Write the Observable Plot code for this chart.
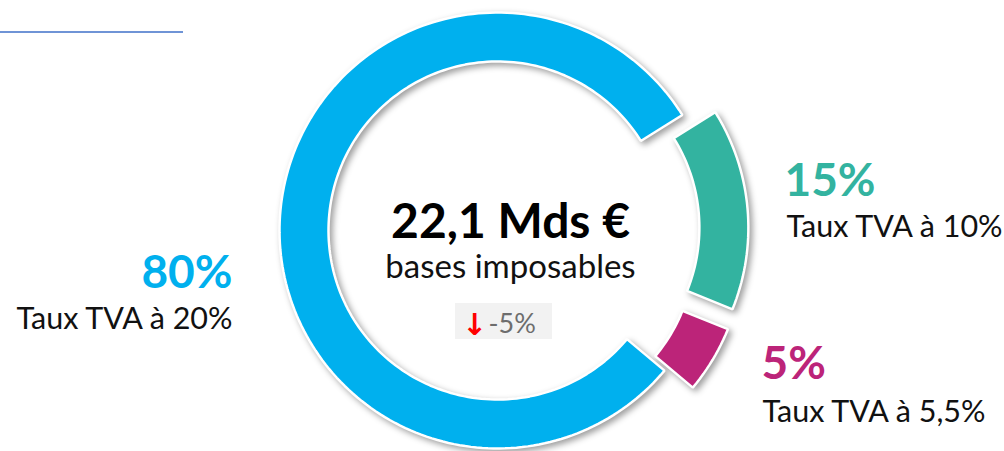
<!DOCTYPE html>
<html><head><meta charset="utf-8">
<script src="https://cdn.jsdelivr.net/npm/d3@7"></script>
<script src="https://cdn.jsdelivr.net/npm/@observablehq/plot@0.6"></script>
<style>
html,body{margin:0;padding:0;background:#fff;}
#chart{position:relative;width:1004px;height:451px;overflow:hidden;}
#rule{position:absolute;left:0;top:31px;width:183px;height:2px;background:#6f94d6;z-index:2;}
</style></head><body>
<div id="chart"></div>
<script>
// ---- data ----
const categories = ["Taux TVA à 20%", "Taux TVA à 10%", "Taux TVA à 5,5%"];
const shares = [80, 15, 5];
const shareLabels = ["80%", "15%", "5%"];
const colors = ["#00B0EE", "#33B3A0", "#BC2479"];
const totalLabel = "22,1 Mds €";
const totalCaption = "bases imposables";
const changeArrow = "↓";
const changeLabel = "-5%";

// ---- layout ----
const W = 1004, H = 451;
const cx = 497, cy = 230, rIn = 169, rOut = 218;
const startDeg = 130;
const explodeBy = [0, 33, 33];
const font = "Lato, 'Open Sans', sans-serif";

const sum = d3.sum(shares);
let acc = 0;
const pts = [];
shares.forEach((v, i) => {
  const a0 = (startDeg + acc / sum * 360) * Math.PI / 180;
  acc += v;
  const a1 = (startDeg + acc / sum * 360) * Math.PI / 180;
  const mid = (a0 + a1) / 2;
  const ox = cx + explodeBy[i] * Math.sin(mid);
  const oy = cy - explodeBy[i] * Math.cos(mid);
  const n = Math.max(8, Math.ceil(240 * v / sum));
  for (let k = 0; k <= n; k++) {
    const a = a0 + (a1 - a0) * k / n;
    pts.push({key: categories[i], color: colors[i], x: ox + rOut * Math.sin(a), y: oy - rOut * Math.cos(a)});
  }
  for (let k = n; k >= 0; k--) {
    const a = a0 + (a1 - a0) * k / n;
    pts.push({key: categories[i], color: colors[i], x: ox + rIn * Math.sin(a), y: oy - rIn * Math.cos(a)});
  }
});

const pctPos = [{x: 232, y: 287, a: "end"}, {x: 784, y: 195, a: "start"}, {x: 761, y: 378, a: "start"}];
const catPos = [{x: 232, y: 328, a: "end"}, {x: 786, y: 236, a: "start"}, {x: 762, y: 421, a: "start"}];

const pctData = shareLabels.map((t, i) => ({t, c: colors[i], ...pctPos[i]}));
const catData = categories.map((t, i) => ({t, ...catPos[i]}));
const L = pctData.filter(d => d.a === "end"), R = pctData.filter(d => d.a === "start");
const CL = catData.filter(d => d.a === "end"), CR = catData.filter(d => d.a === "start");

const pctOpts = {x: "x", y: "y", text: "t", fill: "c", lineAnchor: "bottom", fontFamily: font, fontWeight: "bold", fontSize: 46};
const catOpts = {x: "x", y: "y", text: "t", fill: "#111", lineAnchor: "bottom", fontFamily: font, fontSize: 30.5};

const chart = Plot.plot({
  width: W, height: H, margin: 0,
  style: {background: "transparent", overflow: "visible"},
  x: {domain: [0, W], range: [0, W], axis: null},
  y: {domain: [0, H], range: [0, H], axis: null},
  color: {type: "identity"},
  marks: [
    Plot.line(pts, {x: "x", y: "y", z: "key", fill: "color", stroke: "white", strokeWidth: 2.5, strokeLinejoin: "miter", curve: "linear-closed"}),
    Plot.text(L, {...pctOpts, textAnchor: "end"}),
    Plot.text(R, {...pctOpts, textAnchor: "start"}),
    Plot.text(CL, {...catOpts, textAnchor: "end"}),
    Plot.text(CR, {...catOpts, textAnchor: "start"}),
    Plot.text([totalLabel], {x: 510, y: 237, text: d => d, fill: "#000", textAnchor: "middle", lineAnchor: "bottom", fontFamily: font, fontWeight: "bold", fontSize: 48}),
    Plot.text([totalCaption], {x: 510, y: 277, text: d => d, fill: "#111", textAnchor: "middle", lineAnchor: "bottom", fontFamily: font, fontSize: 33}),
    Plot.rect([changeLabel], {x1: 455, x2: 552, y1: 303, y2: 339, fill: "#f2f2f2"}),
    Plot.text([changeArrow], {x: 474, y: 334, text: d => d, fill: "#ff0000", textAnchor: "middle", lineAnchor: "bottom", fontFamily: "'DejaVu Sans', sans-serif", fontWeight: "bold", fontSize: 30}),
    Plot.text([changeLabel], {x: 488, y: 332, text: d => d, fill: "#6d6d6d", textAnchor: "start", lineAnchor: "bottom", fontFamily: font, fontSize: 27})
  ]
});
d3.select(chart).selectAll('g[aria-label="line"]').style("filter", "drop-shadow(3px 3px 3px rgba(0,0,0,0.38))");
const host = document.getElementById("chart");
host.appendChild(chart);
const rule = document.createElement("div");
rule.id = "rule";
host.appendChild(rule);
</script>
</body></html>
